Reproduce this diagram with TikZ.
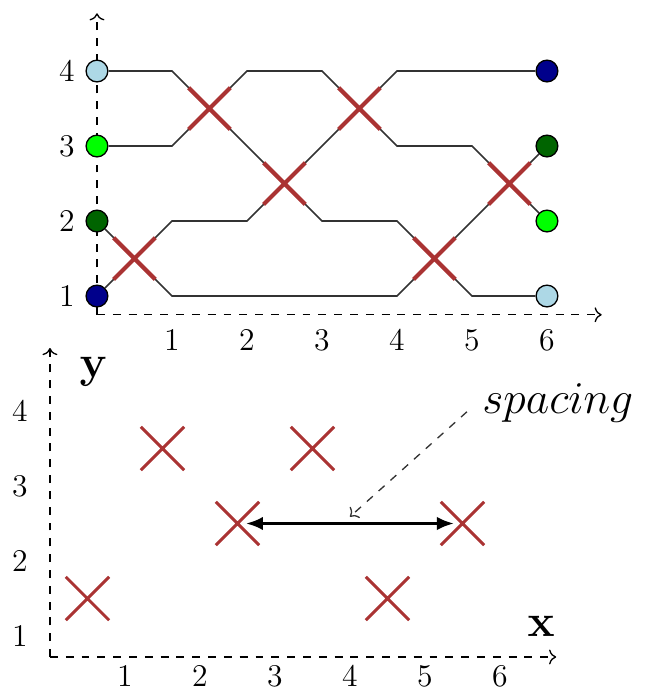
\documentclass[tikz,border=0pt]{standalone}
\usetikzlibrary{arrows.meta,shapes.misc}
\definecolor{doden}{RGB}{170,51,51}
\definecolor{xanhtham}{RGB}{0,0,139}
\definecolor{xanhla}{RGB}{0,255,0}
\definecolor{xanhdam}{RGB}{0,100,0}
\definecolor{xanhnhat}{RGB}{173,216,230}
\begin{document}
\begin{tikzpicture}[>=To,font=\large]
	\tikzset{nut/.style={circle,draw,inner sep=0pt,minimum size=0.29cm,line width=0.5pt},
		nhan/.style={inner sep=0.5pt},
		day/.style={line width=0.6pt,black!80},
		cheo/.style={cross out,draw=doden,inner sep=0pt,minimum size=0.5cm,line width=1.6pt},
		cheonho/.style={cross out,draw=doden,inner sep=0pt,minimum size=0.54cm,line width=1.1pt},
		truc/.style={dashed,line width=0.5pt,->},
		chu/.style={font=\fontsize{19}{23}\selectfont,inner sep=0pt}}
	\useasboundingbox (-1.293,-4.293) rectangle (7.413,4.947);
	
	% Hình trên: trục toạ độ
	\coordinate (O) at (0,0.75);
	\coordinate (Oy) at (0,4.77);
	\coordinate (Ox) at (6.73,0.75);
	\draw[truc] (O) -- (Oy);
	\draw[truc] (O) -- (Ox);
	\path (-0.4,1) node[nhan] (ty1){$1$} (-0.4,2) node[nhan] (ty2){$2$}
	(-0.4,3) node[nhan] (ty3){$3$} (-0.4,4) node[nhan] (ty4){$4$}
	(1,0.41) node[nhan] (tx1){$1$} (2,0.41) node[nhan] (tx2){$2$} (3,0.41) node[nhan] (tx3){$3$}
	(4,0.41) node[nhan] (tx4){$4$} (5,0.41) node[nhan] (tx5){$5$} (6,0.41) node[nhan] (tx6){$6$};
	
	% Các nút đầu vào và đầu ra
	\path (0,1) node[nut,fill=xanhtham] (T1){}
	(0,2) node[nut,fill=xanhdam] (T2){}
	(0,3) node[nut,fill=xanhla] (T3){}
	(0,4) node[nut,fill=xanhnhat] (T4){}
	(6,1) node[nut,fill=xanhnhat] (P1){}
	(6,2) node[nut,fill=xanhla] (P2){}
	(6,3) node[nut,fill=xanhdam] (P3){}
	(6,4) node[nut,fill=xanhtham] (P4){};
	
	% Các dây nối
	\draw[day] (T4) -- (1,4) -- (2,3) -- (3,2) -- (4,2) -- (5,1) -- (P1);
	\draw[day] (T3) -- (1,3) -- (2,4) -- (3,4) -- (4,3) -- (5,3) -- (P2);
	\draw[day] (T2) -- (1,1) -- (4,1) -- (P3);
	\draw[day] (T1) -- (1,2) -- (2,2) -- (4,4) -- (P4);
	
	% Các điểm giao nhau
	\path (0.5,1.5) node[cheo] (C1){}
	(1.5,3.5) node[cheo] (C2){}
	(2.5,2.5) node[cheo] (C3){}
	(3.5,3.5) node[cheo] (C4){}
	(4.5,1.5) node[cheo] (C5){}
	(5.5,2.5) node[cheo] (C6){};
	
	% Hình dưới
	\begin{scope}[shift={(-0.627,-4.533)}]
		\coordinate (Q) at (0,0.72);
		\coordinate (Qy) at (0,4.84);
		\coordinate (Qx) at (6.75,0.72);
		\draw[truc] (Q) -- (Qy);
		\draw[truc] (Q) -- (Qx);
		\path (-0.4,1) node[nhan] (dy1){$1$} (-0.4,2) node[nhan] (dy2){$2$}
		(-0.4,3) node[nhan] (dy3){$3$} (-0.4,4) node[nhan] (dy4){$4$}
		(1,0.46) node[nhan] (dx1){$1$} (2,0.46) node[nhan] (dx2){$2$} (3,0.46) node[nhan] (dx3){$3$}
		(4,0.46) node[nhan] (dx4){$4$} (5,0.46) node[nhan] (dx5){$5$} (6,0.46) node[nhan] (dx6){$6$};
		\node[chu,anchor=base] (ny) at (0.58,4.45) {$\mathbf{y}$};
		\node[chu,anchor=base] (nx) at (6.55,0.99) {$\mathbf{x}$};
		
		\path (0.5,1.5) node[cheonho] (X1){}
		(1.5,3.5) node[cheonho] (X2){}
		(2.5,2.5) node[cheonho] (X3){}
		(3.5,3.5) node[cheonho] (X4){}
		(4.5,1.5) node[cheonho] (X5){}
		(5.5,2.5) node[cheonho] (X6){};
		
		% Khoảng cách
		\draw[{Latex[length=2.3mm,width=1.8mm]}-{Latex[length=2.3mm,width=1.8mm]},line width=1.5pt,shorten <=1.1mm,shorten >=1.1mm] (X3.center) -- (X6.center);
		\node[chu,anchor=base west] (kc) at (5.76,3.97) {$spacing$};
		\coordinate (dich) at (4.0,2.59);
		\draw[dashed,->,line width=0.5pt,black!80] ([shift={(-0.2,0.02)}]kc.base west) -- (dich);
	\end{scope}
\end{tikzpicture}
\end{document}
